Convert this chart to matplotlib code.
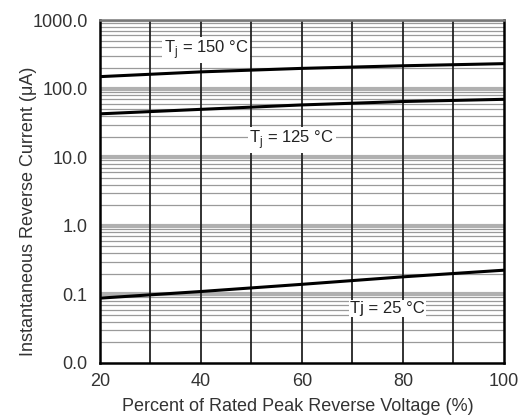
import matplotlib
matplotlib.use("Agg")
import matplotlib.pyplot as plt
import numpy as np

plt.rcParams['font.family'] = ['Liberation Sans', 'DejaVu Sans']

# Data
voltage_pct = [20, 40, 60, 80, 100]
current_150C = [150, 176, 198, 216, 232]
current_125C = [43, 50, 58, 65, 70]
current_25C = [0.088, 0.11, 0.14, 0.18, 0.225]

x_ticks = [20, 40, 60, 80, 100]
y_ticks = [0.01, 0.1, 1, 10, 100, 1000]
y_tick_labels = ["0.0", "0.1", "1.0", "10.0", "100.0", "1000.0"]

fig = plt.figure(figsize=(5.32, 4.2), dpi=100)
ax = fig.add_axes([0.188, 0.136, 0.759, 0.816])

ax.set_yscale('log')
ax.set_xlim(20, 100)
ax.set_ylim(0.01, 1000)

# grid: vertical black lines every 10
for xv in range(30, 100, 10):
    ax.axvline(xv, color='#222222', lw=1.3, zorder=1)
# horizontal log grid lines
for dec in [0.01, 0.1, 1, 10, 100]:
    for m in range(2, 10):
        ax.axhline(dec * m, color='#9a9a9a', lw=0.9, zorder=0)
    ax.axhline(dec * 10, color='#b0b0b0', lw=3.0, zorder=0)

ax.plot(voltage_pct, current_150C, color='black', lw=2.2, zorder=3)
ax.plot(voltage_pct, current_125C, color='black', lw=2.2, zorder=3)
ax.plot(voltage_pct, current_25C, color='black', lw=2.2, zorder=3)

ax.text(41, 370, "T$_\\mathregular{j}$ = 150 °C", ha='center', va='center', fontsize=12, zorder=4,
        color='#222222', bbox=dict(facecolor='white', edgecolor='none', pad=1))
ax.text(58, 18, "T$_\\mathregular{j}$ = 125 °C", ha='center', va='center', fontsize=12, zorder=4,
        color='#222222', bbox=dict(facecolor='white', edgecolor='none', pad=1))
ax.text(77, 0.062, "Tj = 25 °C", ha='center', va='center', fontsize=12, zorder=4,
        color='#222222', bbox=dict(facecolor='white', edgecolor='none', pad=1))

ax.set_xticks(x_ticks)
ax.set_xticklabels([str(v) for v in x_ticks])
ax.set_yticks(y_ticks)
ax.set_yticklabels(y_tick_labels)
ax.yaxis.set_minor_locator(matplotlib.ticker.NullLocator())
ax.tick_params(axis='both', length=0, labelsize=13, colors='#333333')
ax.tick_params(axis='x', pad=7)
ax.tick_params(axis='y', pad=9)

ax.set_xlabel("Percent of Rated Peak Reverse Voltage (%)", fontsize=13, color='#333333')
ax.set_ylabel("Instantaneous Reverse Current (μA)", fontsize=13, color='#333333')
ax.xaxis.set_label_coords(0.49, -0.103)
ax.yaxis.set_label_coords(-0.157, 0.443)

for s in ax.spines.values():
    s.set_color('black')
    s.set_linewidth(1.8)
ax.spines['top'].set_color('#777777')

fig.savefig("out.png", dpi=100)
